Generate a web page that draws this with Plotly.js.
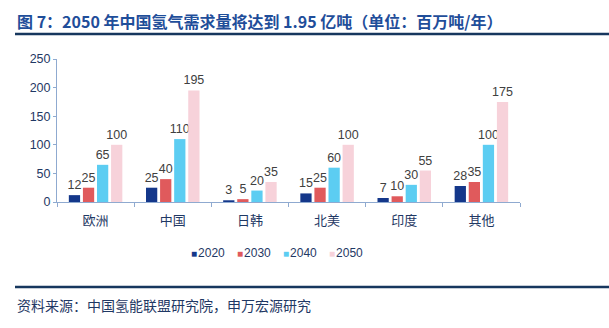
<!DOCTYPE html>
<html><head><meta charset="utf-8">
<script src="https://cdn.plot.ly/plotly-3.0.1.min.js"></script>
<style>html,body{margin:0;padding:0;background:#fff}#c{width:609px;height:328px}</style>
</head><body><div id="c"></div>
<script>
const categories = ["欧洲","中国","日韩","北美","印度","其他"];
const years = ["2020","2030","2040","2050"];
const v2020 = [12,25,3,15,7,28];
const v2030 = [25,40,5,25,10,35];
const v2040 = [65,110,20,60,30,100];
const v2050 = [100,195,35,100,55,175];
const seriesValues = [v2020,v2030,v2040,v2050];
const colors = ["#14378a","#e05a5c","#5ccdf2","#f7d2da"];

const L=57, R=520, T=59, B=202;
const pw=R-L, ph=B-T;
const px = x => (x-L)/pw;
const py = y => (B-y)/ph;

const traces = seriesValues.map((vals,i)=>({
  type:"bar", name:years[i], x:categories, y:vals,
  marker:{color:colors[i]},
  text:vals.map(String), textposition:"outside", cliponaxis:false, constraintext:"none",
  textfont:{family:"Liberation Sans, Arial, sans-serif", size:12.5, color:"#404040"},
  hoverinfo:"none", showlegend:false
}));

const legendAnn = years.map((y,i)=>({
  xref:"paper", yref:"paper", x:px(189+46*i), y:py(253), xanchor:"left", yanchor:"middle",
  showarrow:false,
  text:"<span style='color:"+colors[i]+";font-size:10px'>■</span>&#8202;"+y,
  font:{family:"Liberation Sans, Arial, sans-serif", size:12, color:"#1f3864"}
}));

const layout = {
  width:609, height:328,
  margin:{l:L, r:609-R, t:T, b:328-B},
  paper_bgcolor:"#fff", plot_bgcolor:"#fff",
  barmode:"group", bargap:0.27, bargroupgap:0.2,
  showlegend:false,
  xaxis:{type:"category", showline:true, linecolor:"#8faad0", linewidth:1,
    ticks:"outside", tickson:"boundaries", ticklen:4, tickcolor:"#8faad0",
    ticklabelstandoff:6,
    tickfont:{family:"Noto Sans CJK SC, sans-serif", size:13, color:"#1f3864"},
    showgrid:false, zeroline:false, fixedrange:true},
  yaxis:{range:[0,250], dtick:50, showline:true, linecolor:"#8faad0", linewidth:1,
    ticks:"outside", ticklen:3, tickcolor:"#8faad0",
    tickfont:{family:"Liberation Sans, Arial, sans-serif", size:12.5, color:"#1f3864"},
    showgrid:false, zeroline:false, fixedrange:true},
  annotations:[
    {xref:"paper", yref:"paper", x:px(15), y:py(21), xanchor:"left", yanchor:"middle",
     showarrow:false, text:"<b>图 7：2050 年中国氢气需求量将达到 1.95 亿吨（单位：百万吨/年）</b>",
     font:{family:"Noto Sans CJK SC, sans-serif", size:16, color:"#1f4e9a"}},
    {xref:"paper", yref:"paper", x:px(15), y:py(305), xanchor:"left", yanchor:"middle",
     showarrow:false, text:"资料来源：中国氢能联盟研究院，申万宏源研究",
     font:{family:"Noto Sans CJK SC, sans-serif", size:14, color:"#1f3864"}}
  ].concat(legendAnn),
  shapes:[
    {type:"line", xref:"paper", yref:"paper", x0:px(15), x1:px(609), y0:py(34), y1:py(34),
     line:{color:"#17375e", width:2.5}},
    {type:"line", xref:"paper", yref:"paper", x0:px(15), x1:px(609), y0:py(287), y1:py(287),
     line:{color:"#17375e", width:2.5}}
  ]
};
Plotly.newPlot("c", traces, layout, {staticPlot:true, displayModeBar:false});
</script></body></html>
